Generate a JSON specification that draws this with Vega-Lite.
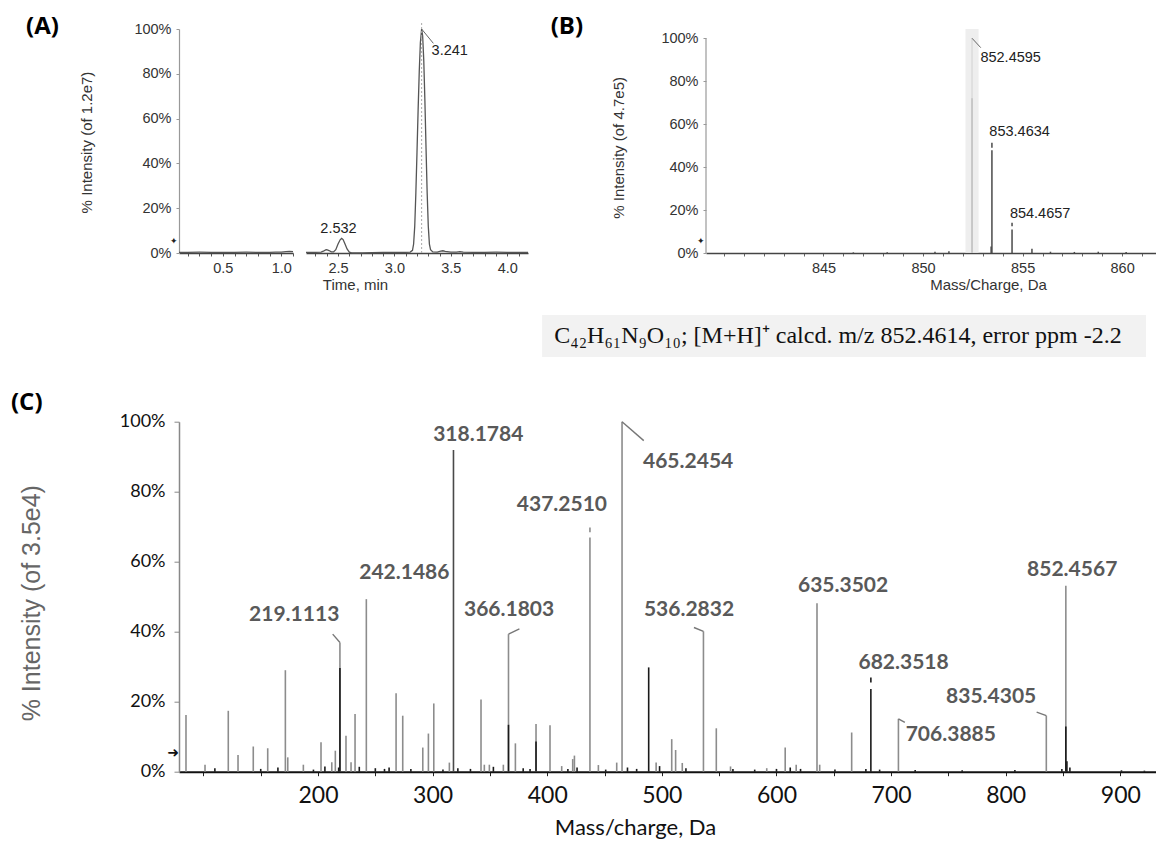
{
  "$schema": "https://vega.github.io/schema/vega-lite/v6.json",
  "padding": {"left": 10, "top": 14, "right": 0, "bottom": 0},
  "background": "white",
  "config": {
    "view": {"stroke": null},
    "axis": {"grid": false, "labelOverlap": false, "labelFlush": false, "titleFontWeight": "normal"}
  },
  "datasets": {
    "a_left": [
      {"t": 0.125, "v": 0.3}, {"t": 0.2, "v": 0.3}, {"t": 0.3, "v": 0.35}, {"t": 0.4, "v": 0.3},
      {"t": 0.5, "v": 0.25}, {"t": 0.6, "v": 0.3}, {"t": 0.7, "v": 0.35}, {"t": 0.8, "v": 0.3},
      {"t": 0.9, "v": 0.3}, {"t": 0.95, "v": 0.35}, {"t": 1.0, "v": 0.4}, {"t": 1.04, "v": 0.6},
      {"t": 1.07, "v": 0.75}, {"t": 1.1, "v": 0.6}
    ],
    "a_right": [
      {"t": 2.216, "v": 0.3}, {"t": 2.3, "v": 0.3}, {"t": 2.35, "v": 0.4}, {"t": 2.37, "v": 0.8},
      {"t": 2.39, "v": 1.4}, {"t": 2.4, "v": 1.5}, {"t": 2.42, "v": 1.1}, {"t": 2.44, "v": 0.5},
      {"t": 2.46, "v": 0.5}, {"t": 2.48, "v": 1.5}, {"t": 2.5, "v": 4.0}, {"t": 2.52, "v": 6.0},
      {"t": 2.532, "v": 6.5}, {"t": 2.545, "v": 6.0}, {"t": 2.56, "v": 4.2}, {"t": 2.58, "v": 1.8},
      {"t": 2.6, "v": 0.4}, {"t": 2.62, "v": 0.05}, {"t": 2.66, "v": 0.0}, {"t": 2.72, "v": 0.05},
      {"t": 2.8, "v": 0.2}, {"t": 2.9, "v": 0.3}, {"t": 3.0, "v": 0.3}, {"t": 3.1, "v": 0.3},
      {"t": 3.14, "v": 0.4}, {"t": 3.16, "v": 1.2}, {"t": 3.17, "v": 4}, {"t": 3.18, "v": 12},
      {"t": 3.19, "v": 27}, {"t": 3.2, "v": 45}, {"t": 3.21, "v": 64}, {"t": 3.22, "v": 81},
      {"t": 3.23, "v": 94}, {"t": 3.241, "v": 100}, {"t": 3.25, "v": 97}, {"t": 3.26, "v": 86},
      {"t": 3.27, "v": 68}, {"t": 3.28, "v": 47}, {"t": 3.29, "v": 27}, {"t": 3.3, "v": 12},
      {"t": 3.31, "v": 4}, {"t": 3.32, "v": 1.5}, {"t": 3.34, "v": 0.5}, {"t": 3.38, "v": 0.4},
      {"t": 3.41, "v": 0.8}, {"t": 3.43, "v": 1.0}, {"t": 3.45, "v": 0.7}, {"t": 3.5, "v": 0.4},
      {"t": 3.55, "v": 0.4}, {"t": 3.58, "v": 0.6}, {"t": 3.61, "v": 0.4}, {"t": 3.7, "v": 0.3},
      {"t": 3.8, "v": 0.3}, {"t": 3.9, "v": 0.35}, {"t": 4.0, "v": 0.3}, {"t": 4.1, "v": 0.3},
      {"t": 4.184, "v": 0.3}
    ],
    "a_labels": [
      {"t": 2.504, "v": 10.8, "label": "2.532"},
      {"t": 3.49, "v": 90, "label": "3.241"}
    ],
    "a_leader": [{"t": 3.241, "v": 100, "t2": 3.345, "v2": 93.6}],
    "a_apex": [{"t": 3.241, "v": 0, "v2": 102.7}],
    "b_band": [{"mz": 852.13, "mz2": 852.79}],
    "b_sticks": [
      {"mz": 852.46, "lo": 0, "hi": 100, "trace": "light"},
      {"mz": 852.46, "lo": 0, "hi": 72, "trace": "dark"},
      {"mz": 853.46, "lo": 0, "hi": 47.8, "trace": "dark"},
      {"mz": 853.46, "lo": 49, "hi": 51.3, "trace": "dark"},
      {"mz": 853.42, "lo": 0, "hi": 3, "trace": "dark"},
      {"mz": 854.47, "lo": 0, "hi": 10.9, "trace": "dark"},
      {"mz": 854.47, "lo": 12.4, "hi": 14.1, "trace": "dark"},
      {"mz": 855.47, "lo": 0, "hi": 2, "trace": "dark"},
      {"mz": 846.5, "lo": 0, "hi": 0.3, "trace": "dark"},
      {"mz": 848.2, "lo": 0, "hi": 0.4, "trace": "dark"},
      {"mz": 850.6, "lo": 0, "hi": 0.6, "trace": "dark"},
      {"mz": 851.3, "lo": 0, "hi": 0.8, "trace": "dark"},
      {"mz": 856.4, "lo": 0, "hi": 0.6, "trace": "dark"},
      {"mz": 857.6, "lo": 0, "hi": 0.5, "trace": "dark"},
      {"mz": 858.8, "lo": 0, "hi": 0.6, "trace": "dark"},
      {"mz": 860.2, "lo": 0, "hi": 0.5, "trace": "dark"}
    ],
    "b_leader": [{"mz": 852.46, "lo": 100, "mz2": 852.9, "hi": 95.6}],
    "b_labels": [
      {"mz": 854.4, "lo": 90.6, "label": "852.4595"},
      {"mz": 854.85, "lo": 56.4, "label": "853.4634"},
      {"mz": 855.88, "lo": 18.3, "label": "854.4657"}
    ],
    "formula": [
      {"text": "C₄₂H₆₁N₉O₁₀; [M+H]⁺ calcd. m/z 852.4614, error ppm -2.2"}
    ],
    "c_sticks": [
      {"mz": 84.8, "lo": 0, "hi": 16.2, "trace": "gray"},
      {"mz": 101.4, "lo": 0, "hi": 2, "trace": "gray"},
      {"mz": 121.7, "lo": 0, "hi": 17.4, "trace": "gray"},
      {"mz": 130.2, "lo": 0, "hi": 4.8, "trace": "gray"},
      {"mz": 143.5, "lo": 0, "hi": 7.2, "trace": "gray"},
      {"mz": 156.1, "lo": 0, "hi": 6.7, "trace": "gray"},
      {"mz": 171.5, "lo": 0, "hi": 29, "trace": "gray"},
      {"mz": 173.6, "lo": 0, "hi": 4.1, "trace": "gray"},
      {"mz": 187.2, "lo": 0, "hi": 2, "trace": "gray"},
      {"mz": 202.6, "lo": 0, "hi": 8.4, "trace": "gray"},
      {"mz": 212, "lo": 0, "hi": 2.7, "trace": "gray"},
      {"mz": 215.1, "lo": 0, "hi": 6, "trace": "gray"},
      {"mz": 219.11, "lo": 0, "hi": 36.9, "trace": "gray"},
      {"mz": 224.4, "lo": 0, "hi": 10.3, "trace": "gray"},
      {"mz": 228.8, "lo": 0, "hi": 2.7, "trace": "gray"},
      {"mz": 232.3, "lo": 0, "hi": 16.5, "trace": "gray"},
      {"mz": 242.15, "lo": 0, "hi": 49.3, "trace": "gray"},
      {"mz": 268.1, "lo": 0, "hi": 22.4, "trace": "gray"},
      {"mz": 273.9, "lo": 0, "hi": 16, "trace": "gray"},
      {"mz": 291.4, "lo": 0, "hi": 6.9, "trace": "gray"},
      {"mz": 296.3, "lo": 0, "hi": 10.9, "trace": "gray"},
      {"mz": 301, "lo": 0, "hi": 19.5, "trace": "gray"},
      {"mz": 314.6, "lo": 0, "hi": 2.6, "trace": "gray"},
      {"mz": 318.18, "lo": 0, "hi": 91.9, "trace": "dark"},
      {"mz": 342.2, "lo": 0, "hi": 20.6, "trace": "gray"},
      {"mz": 345.1, "lo": 0, "hi": 2, "trace": "gray"},
      {"mz": 349.5, "lo": 0, "hi": 2, "trace": "gray"},
      {"mz": 361.7, "lo": 0, "hi": 2, "trace": "gray"},
      {"mz": 366.18, "lo": 0, "hi": 39.3, "trace": "gray"},
      {"mz": 372.2, "lo": 0, "hi": 8.1, "trace": "gray"},
      {"mz": 390.2, "lo": 0, "hi": 13.6, "trace": "gray"},
      {"mz": 402.4, "lo": 0, "hi": 13.3, "trace": "gray"},
      {"mz": 412.6, "lo": 0, "hi": 1.6, "trace": "gray"},
      {"mz": 422.2, "lo": 0, "hi": 3.6, "trace": "gray"},
      {"mz": 423.7, "lo": 0, "hi": 4.6, "trace": "gray"},
      {"mz": 437.25, "lo": 0, "hi": 66.9, "trace": "gray"},
      {"mz": 437.25, "lo": 68.4, "hi": 69.8, "trace": "gray"},
      {"mz": 444.6, "lo": 0, "hi": 1.9, "trace": "gray"},
      {"mz": 460.6, "lo": 0, "hi": 2.6, "trace": "gray"},
      {"mz": 465.25, "lo": 0, "hi": 100, "trace": "gray"},
      {"mz": 495, "lo": 0, "hi": 2.6, "trace": "gray"},
      {"mz": 508.6, "lo": 0, "hi": 9.3, "trace": "gray"},
      {"mz": 512, "lo": 0, "hi": 6.2, "trace": "gray"},
      {"mz": 517.8, "lo": 0, "hi": 2.5, "trace": "gray"},
      {"mz": 536.28, "lo": 0, "hi": 40.1, "trace": "gray"},
      {"mz": 547.5, "lo": 0, "hi": 12.4, "trace": "gray"},
      {"mz": 559.9, "lo": 0, "hi": 1.5, "trace": "gray"},
      {"mz": 591.5, "lo": 0, "hi": 1, "trace": "gray"},
      {"mz": 607.6, "lo": 0, "hi": 6.9, "trace": "gray"},
      {"mz": 617.2, "lo": 0, "hi": 2, "trace": "gray"},
      {"mz": 635.35, "lo": 0, "hi": 48.1, "trace": "gray"},
      {"mz": 637.7, "lo": 0, "hi": 2, "trace": "gray"},
      {"mz": 665.6, "lo": 0, "hi": 11.2, "trace": "gray"},
      {"mz": 706.39, "lo": 0, "hi": 15.1, "trace": "gray"},
      {"mz": 835.43, "lo": 0, "hi": 16, "trace": "gray"},
      {"mz": 852.46, "lo": 0, "hi": 53.1, "trace": "gray"},
      {"mz": 219.11, "lo": 0, "hi": 29.6, "trace": "black"},
      {"mz": 366.18, "lo": 0, "hi": 13.4, "trace": "black"},
      {"mz": 390.2, "lo": 0, "hi": 8.6, "trace": "black"},
      {"mz": 488.5, "lo": 0, "hi": 29.8, "trace": "black"},
      {"mz": 682.35, "lo": 0, "hi": 23.6, "trace": "black"},
      {"mz": 682.35, "lo": 25.5, "hi": 26.9, "trace": "black"},
      {"mz": 852.46, "lo": 0, "hi": 12.9, "trace": "black"},
      {"mz": 853.4, "lo": 0, "hi": 3, "trace": "black"},
      {"mz": 110, "lo": 0, "hi": 1, "trace": "black"},
      {"mz": 150, "lo": 0, "hi": 0.8, "trace": "black"},
      {"mz": 165, "lo": 0, "hi": 1.2, "trace": "black"},
      {"mz": 196, "lo": 0, "hi": 0.6, "trace": "black"},
      {"mz": 206, "lo": 0, "hi": 1.5, "trace": "black"},
      {"mz": 218, "lo": 0, "hi": 1.2, "trace": "black"},
      {"mz": 236, "lo": 0, "hi": 1.4, "trace": "black"},
      {"mz": 250, "lo": 0, "hi": 1, "trace": "black"},
      {"mz": 258, "lo": 0, "hi": 0.8, "trace": "black"},
      {"mz": 262, "lo": 0, "hi": 1.2, "trace": "black"},
      {"mz": 281, "lo": 0, "hi": 0.8, "trace": "black"},
      {"mz": 309, "lo": 0, "hi": 0.6, "trace": "black"},
      {"mz": 322, "lo": 0, "hi": 1, "trace": "black"},
      {"mz": 333, "lo": 0, "hi": 0.8, "trace": "black"},
      {"mz": 353, "lo": 0, "hi": 1.4, "trace": "black"},
      {"mz": 379, "lo": 0, "hi": 1, "trace": "black"},
      {"mz": 385, "lo": 0, "hi": 0.8, "trace": "black"},
      {"mz": 418, "lo": 0, "hi": 0.8, "trace": "black"},
      {"mz": 426, "lo": 0, "hi": 1.2, "trace": "black"},
      {"mz": 451, "lo": 0, "hi": 0.6, "trace": "black"},
      {"mz": 470, "lo": 0, "hi": 1.2, "trace": "black"},
      {"mz": 478, "lo": 0, "hi": 0.8, "trace": "black"},
      {"mz": 498, "lo": 0, "hi": 1.6, "trace": "black"},
      {"mz": 521, "lo": 0, "hi": 1, "trace": "black"},
      {"mz": 562, "lo": 0, "hi": 0.8, "trace": "black"},
      {"mz": 581, "lo": 0, "hi": 0.6, "trace": "black"},
      {"mz": 600, "lo": 0, "hi": 0.8, "trace": "black"},
      {"mz": 612, "lo": 0, "hi": 1.2, "trace": "black"},
      {"mz": 621, "lo": 0, "hi": 0.8, "trace": "black"},
      {"mz": 651, "lo": 0, "hi": 0.6, "trace": "black"},
      {"mz": 678, "lo": 0, "hi": 0.8, "trace": "black"},
      {"mz": 690, "lo": 0, "hi": 0.6, "trace": "black"},
      {"mz": 721, "lo": 0, "hi": 0.5, "trace": "black"},
      {"mz": 762, "lo": 0, "hi": 0.4, "trace": "black"},
      {"mz": 808, "lo": 0, "hi": 0.5, "trace": "black"},
      {"mz": 849, "lo": 0, "hi": 0.8, "trace": "black"},
      {"mz": 856, "lo": 0, "hi": 1.2, "trace": "black"},
      {"mz": 901, "lo": 0, "hi": 0.4, "trace": "black"},
      {"mz": 921, "lo": 0, "hi": 0.3, "trace": "black"}
    ],
    "c_leaders": [
      {"mz": 219.11, "lo": 36.9, "mz2": 212.8, "hi": 39.3},
      {"mz": 366.18, "lo": 39.3, "mz2": 375.7, "hi": 40.8},
      {"mz": 465.25, "lo": 100, "mz2": 484.2, "hi": 94.6},
      {"mz": 536.28, "lo": 40.1, "mz2": 528, "hi": 41.2},
      {"mz": 706.39, "lo": 15.1, "mz2": 712, "hi": 14.1},
      {"mz": 835.43, "lo": 16, "mz2": 827, "hi": 17}
    ],
    "c_labels": [
      {"mz": 179.2, "lo": 44.9, "label": "219.1113"},
      {"mz": 275.3, "lo": 56.9, "label": "242.1486"},
      {"mz": 339.8, "lo": 96.3, "label": "318.1784"},
      {"mz": 366.7, "lo": 46.1, "label": "366.1803"},
      {"mz": 412.8, "lo": 76.3, "label": "437.2510"},
      {"mz": 522.9, "lo": 88.4, "label": "465.2454"},
      {"mz": 523.7, "lo": 46.1, "label": "536.2832"},
      {"mz": 658.1, "lo": 53.1, "label": "635.3502"},
      {"mz": 710.9, "lo": 31.1, "label": "682.3518"},
      {"mz": 752.1, "lo": 10.5, "label": "706.3885"},
      {"mz": 787.3, "lo": 21.4, "label": "835.4305"},
      {"mz": 858, "lo": 57.5, "label": "852.4567"}
    ]
  },
  "bounds": "flush",
  "spacing": 168.7,
  "vconcat": [
    {
      "width": 977,
      "height": 224,
      "resolve": {"scale": {"x": "independent", "y": "independent"}},
      "layer": [
        {
          "layer": [
            {
              "data": {"name": "a_left"},
              "mark": {"type": "line", "color": "#555", "strokeWidth": 1.3},
              "encoding": {
                "x": {
                  "field": "t", "type": "quantitative",
                  "scale": {"domain": [0.125, 1.1], "range": [0, 114], "nice": false, "zero": false},
                  "axis": {
                    "orient": "bottom",
                    "title": null,
                    "values": [0.2, 0.3, 0.4, 0.5, 0.6, 0.7, 0.8, 0.9, 1.0, 1.1],
                    "labelExpr": "abs(round(datum.value*10)%5)==0 ? format(datum.value,'.1f') : ''",
                    "labelOverlap": false, "labelFlush": false,
                    "domainColor": "#444", "domainWidth": 1.5,
                    "tickColor": "#555", "tickSize": 3,
                    "labelFont": "Liberation Sans", "labelFontSize": 14.5, "labelColor": "#333", "labelPadding": 5
                  }
                },
                "y": {
                  "field": "v", "type": "quantitative",
                  "scale": {"domain": [0, 100], "nice": false},
                  "axis": {
                    "orient": "left",
                    "title": "% Intensity (of 1.2e7)",
                    "values": [0, 10, 20, 30, 40, 50, 60, 70, 80, 90, 100],
                    "labelExpr": "datum.value % 20 == 0 ? datum.value + '%' : ''",
                    "labelOverlap": false,
                    "domainColor": "#999", "domainWidth": 1.2,
                    "tickColor": "#999", "tickSize": 3,
                    "labelFont": "Liberation Sans", "labelFontSize": 14.5, "labelColor": "#333", "labelPadding": 5,
                    "titleFont": "Liberation Sans", "titleFontSize": 15, "titleColor": "#333",
                    "titleX": -93, "titleY": 113, "titleBaseline": "middle", "titleAlign": "center"
                  }
                }
              }
            },
            {
              "data": {"values": [{"k": 1}]},
              "mark": {"type": "text", "text": "(A)", "font": "Open Sans", "fontWeight": "bold", "fontSize": 24, "align": "left", "baseline": "top", "color": "#000"},
              "encoding": {
                "x": {"datum": -1.183, "axis": {"title": null}},
                "y": {"datum": 106.4, "axis": {"title": "% Intensity (of 1.2e7)"}}
              }
            },
            {
              "data": {"values": [{"k": 1}]},
              "mark": {"type": "text", "text": "✦", "fontSize": 9, "align": "right", "baseline": "middle", "dx": -1, "color": "#222"},
              "encoding": {
                "x": {"datum": 0.125, "axis": {"title": null}},
                "y": {"datum": 5.2, "axis": {"title": "% Intensity (of 1.2e7)"}}
              }
            }
          ]
        },
        {
          "layer": [
            {
              "data": {"name": "a_right"},
              "mark": {"type": "line", "color": "#555", "strokeWidth": 1.3},
              "encoding": {
                "x": {
                  "field": "t", "type": "quantitative",
                  "scale": {"domain": [2.216, 4.184], "range": [127, 349], "nice": false, "zero": false},
                  "axis": {
                    "orient": "bottom",
                    "title": "Time, min",
                    "values": [2.3, 2.4, 2.5, 2.6, 2.7, 2.8, 2.9, 3.0, 3.1, 3.2, 3.3, 3.4, 3.5, 3.6, 3.7, 3.8, 3.9, 4.0, 4.1],
                    "labelExpr": "abs(round(datum.value*10)%5)==0 ? format(datum.value,'.1f') : ''",
                    "labelOverlap": false, "labelFlush": false,
                    "domainColor": "#444", "domainWidth": 1.5,
                    "tickColor": "#555", "tickSize": 3,
                    "labelFont": "Liberation Sans", "labelFontSize": 14.5, "labelColor": "#333", "labelPadding": 5,
                    "titleFont": "Liberation Sans", "titleFontSize": 15, "titleColor": "#333",
                    "titleX": 176, "titleY": 24, "titleBaseline": "top", "titleAlign": "center"
                  }
                },
                "y": {
                  "field": "v", "type": "quantitative",
                  "scale": {"domain": [0, 100], "nice": false},
                  "axis": null
                }
              }
            },
            {
              "data": {"name": "a_apex"},
              "mark": {"type": "rule", "color": "#aaa", "strokeWidth": 1, "strokeDash": [2, 2]},
              "encoding": {
                "x": {"field": "t", "type": "quantitative", "axis": {"title": "Time, min"}},
                "y": {"field": "v", "type": "quantitative", "axis": null},
                "y2": {"field": "v2"}
              }
            },
            {
              "data": {"name": "a_leader"},
              "mark": {"type": "rule", "color": "#666", "strokeWidth": 1},
              "encoding": {
                "x": {"field": "t", "type": "quantitative", "axis": {"title": "Time, min"}},
                "y": {"field": "v", "type": "quantitative", "axis": null},
                "x2": {"field": "t2"},
                "y2": {"field": "v2"}
              }
            },
            {
              "data": {"name": "a_labels"},
              "mark": {"type": "text", "font": "Liberation Sans", "fontSize": 14.5, "color": "#222", "align": "center", "baseline": "middle"},
              "encoding": {
                "x": {"field": "t", "type": "quantitative", "axis": {"title": "Time, min"}},
                "y": {"field": "v", "type": "quantitative", "axis": null},
                "text": {"field": "label"}
              }
            }
          ]
        },
        {
          "layer": [
            {
              "data": {"name": "b_sticks"},
              "mark": {"type": "rule", "strokeWidth": 1.5},
              "encoding": {
                "x": {
                  "field": "mz", "type": "quantitative",
                  "scale": {"domain": [839.1, 861.7], "range": [527, 977], "nice": false, "zero": false},
                  "axis": {
                    "orient": "bottom",
                    "title": "Mass/Charge, Da",
                    "values": [840, 841, 842, 843, 844, 845, 846, 847, 848, 849, 850, 851, 852, 853, 854, 855, 856, 857, 858, 859, 860, 861],
                    "labelExpr": "datum.value % 5 == 0 && datum.value > 840 ? toString(datum.value) : ''",
                    "labelOverlap": false, "labelFlush": false,
                    "domainColor": "#444", "domainWidth": 1.5,
                    "tickColor": "#666", "tickSize": 3,
                    "labelFont": "Liberation Sans", "labelFontSize": 14.5, "labelColor": "#333", "labelPadding": 5,
                    "titleFont": "Liberation Sans", "titleFontSize": 15, "titleColor": "#333",
                    "titleX": 809, "titleY": 24, "titleBaseline": "top", "titleAlign": "center"
                  }
                },
                "y": {
                  "field": "lo", "type": "quantitative",
                  "scale": {"domain": [0, 104.3], "nice": false},
                  "axis": {
                    "orient": "left",
                    "offset": -527,
                    "title": "% Intensity (of 4.7e5)",
                    "domain": false,
                    "values": [0, 10, 20, 30, 40, 50, 60, 70, 80, 90, 100],
                    "labelExpr": "datum.value % 20 == 0 ? datum.value + '%' : ''",
                    "labelOverlap": false,
                    "tickColor": "#999", "tickSize": 3,
                    "labelFont": "Liberation Sans", "labelFontSize": 14.5, "labelColor": "#333", "labelPadding": 5,
                    "titleFont": "Liberation Sans", "titleFontSize": 15, "titleColor": "#333",
                    "titleX": -87.4, "titleY": 118.4, "titleBaseline": "middle", "titleAlign": "center"
                  }
                },
                "y2": {"field": "hi"},
                "color": {
                  "field": "trace", "type": "nominal",
                  "scale": {"domain": ["light", "gray", "dark", "black"], "range": ["#b0b0b0", "#8c8c8c", "#4a4a4a", "#1a1a1a"]},
                  "legend": null
                }
              }
            },
            {
              "data": {"name": "b_band"},
              "mark": {"type": "rect", "color": "#e8e8e8", "opacity": 0.75},
              "encoding": {
                "x": {"field": "mz", "type": "quantitative", "axis": {"title": "Mass/Charge, Da"}},
                "x2": {"field": "mz2"},
                "y": {"datum": 0, "axis": {"title": "% Intensity (of 4.7e5)"}},
                "y2": {"datum": 104.3}
              }
            },
            {
              "data": {"values": [{"k": 1}]},
              "mark": {"type": "rule", "color": "#999", "strokeWidth": 1.2},
              "encoding": {
                "x": {"datum": 839.1, "axis": {"title": "Mass/Charge, Da"}},
                "y": {"datum": 0, "axis": {"title": "% Intensity (of 4.7e5)"}},
                "y2": {"datum": 100}
              }
            },
            {
              "data": {"name": "b_leader"},
              "mark": {"type": "rule", "color": "#666", "strokeWidth": 1},
              "encoding": {
                "x": {"field": "mz", "type": "quantitative", "axis": {"title": "Mass/Charge, Da"}},
                "y": {"field": "lo", "type": "quantitative", "axis": {"title": "% Intensity (of 4.7e5)"}},
                "x2": {"field": "mz2"},
                "y2": {"field": "hi"}
              }
            },
            {
              "data": {"name": "b_labels"},
              "mark": {"type": "text", "font": "Liberation Sans", "fontSize": 14.5, "color": "#222", "align": "center", "baseline": "middle"},
              "encoding": {
                "x": {"field": "mz", "type": "quantitative", "axis": {"title": "Mass/Charge, Da"}},
                "y": {"field": "lo", "type": "quantitative", "axis": {"title": "% Intensity (of 4.7e5)"}},
                "text": {"field": "label"}
              }
            },
            {
              "data": {"values": [{"k": 1}]},
              "mark": {"type": "text", "text": "(B)", "font": "Open Sans", "fontWeight": "bold", "fontSize": 24, "align": "left", "baseline": "top", "color": "#000"},
              "encoding": {
                "x": {"datum": 831.3, "axis": {"title": "Mass/Charge, Da"}},
                "y": {"datum": 111.0, "axis": {"title": "% Intensity (of 4.7e5)"}}
              }
            },
            {
              "data": {"values": [{"k": 1}]},
              "mark": {"type": "text", "text": "✦", "fontSize": 9, "align": "right", "baseline": "middle", "dx": -1, "color": "#222"},
              "encoding": {
                "x": {"datum": 839.1, "axis": {"title": "Mass/Charge, Da"}},
                "y": {"datum": 5.6, "axis": {"title": "% Intensity (of 4.7e5)"}}
              }
            },
            {
              "data": {"values": [{"k": 1}]},
              "mark": {"type": "rect", "color": "#f2f2f2"},
              "encoding": {
                "x": {"datum": 830.87, "axis": {"title": "Mass/Charge, Da"}},
                "x2": {"datum": 861.2},
                "y": {"datum": -28.85, "axis": {"title": "% Intensity (of 4.7e5)"}},
                "y2": {"datum": -48.4}
              }
            },
            {
              "data": {"name": "formula"},
              "mark": {"type": "text", "font": "Liberation Serif", "fontSize": 24, "color": "#111", "align": "center", "baseline": "middle"},
              "encoding": {
                "x": {"datum": 845.73, "axis": {"title": "Mass/Charge, Da"}},
                "y": {"datum": -38.6, "axis": {"title": "% Intensity (of 4.7e5)"}},
                "text": {"field": "text"}
              }
            }
          ]
        }
      ]
    },
    {
      "width": 978,
      "height": 350,
      "layer": [
        {
          "data": {"name": "c_sticks"},
          "mark": {"type": "rule", "strokeWidth": 1.6},
          "encoding": {
            "x": {
              "field": "mz", "type": "quantitative",
              "scale": {"domain": [78.7, 932], "nice": false, "zero": false},
              "axis": {
                "title": "Mass/charge, Da",
                "values": [100, 150, 200, 250, 300, 350, 400, 450, 500, 550, 600, 650, 700, 750, 800, 850, 900],
                "labelExpr": "datum.value % 100 == 0 && datum.value > 100 ? toString(datum.value) : ''",
                "labelOverlap": false, "labelFlush": false,
                "domainColor": "#111", "domainWidth": 2,
                "tickColor": "#222", "tickSize": 4,
                "labelFont": "Lato", "labelFontSize": 23, "labelColor": "#111", "labelPadding": 9,
                "titleFont": "Lato", "titleFontSize": 22, "titleColor": "#111",
                "titleX": 456, "titleY": 46, "titleBaseline": "top", "titleAlign": "center"
              }
            },
            "y": {
              "field": "lo", "type": "quantitative",
              "scale": {"domain": [0, 100], "nice": false},
              "axis": {
                "title": "% Intensity (of 3.5e4)",
                "values": [0, 10, 20, 30, 40, 50, 60, 70, 80, 90, 100],
                "labelExpr": "datum.value % 20 == 0 ? datum.value + '%' : ''",
                "labelOverlap": false,
                "domainColor": "#888", "domainWidth": 1.5,
                "tickColor": "#888", "tickSize": 5,
                "labelFont": "Lato", "labelFontSize": 18, "labelColor": "#111", "labelPadding": 9,
                "titleFont": "Liberation Sans", "titleFontSize": 25, "titleColor": "#666",
                "titleX": -148, "titleY": 181, "titleBaseline": "middle", "titleAlign": "center"
              }
            },
            "y2": {"field": "hi"},
            "color": {
              "field": "trace", "type": "nominal",
              "scale": {"domain": ["light", "gray", "dark", "black"], "range": ["#b0b0b0", "#8c8c8c", "#4a4a4a", "#1a1a1a"]},
              "legend": null
            }
          }
        },
        {
          "data": {"name": "c_leaders"},
          "mark": {"type": "rule", "color": "#777", "strokeWidth": 1.4},
          "encoding": {
            "x": {"field": "mz", "type": "quantitative", "axis": {"title": "Mass/charge, Da"}},
            "y": {"field": "lo", "type": "quantitative", "axis": {"title": "% Intensity (of 3.5e4)"}},
            "x2": {"field": "mz2"},
            "y2": {"field": "hi"}
          }
        },
        {
          "data": {"name": "c_labels"},
          "mark": {"type": "text", "font": "Lato", "fontWeight": "bold", "fontSize": 21, "color": "#595959", "align": "center", "baseline": "middle"},
          "encoding": {
            "x": {"field": "mz", "type": "quantitative", "axis": {"title": "Mass/charge, Da"}},
            "y": {"field": "lo", "type": "quantitative", "axis": {"title": "% Intensity (of 3.5e4)"}},
            "text": {"field": "label"}
          }
        },
        {
          "data": {"values": [{"k": 1}]},
          "mark": {"type": "text", "text": "(C)", "font": "Open Sans", "fontWeight": "bold", "fontSize": 24, "align": "left", "baseline": "top", "color": "#000"},
          "encoding": {
            "x": {"datum": -67.9, "axis": {"title": "Mass/charge, Da"}},
            "y": {"datum": 108.9, "axis": {"title": "% Intensity (of 3.5e4)"}}
          }
        },
        {
          "data": {"values": [{"k": 1}]},
          "mark": {"type": "text", "text": "➜", "font": "DejaVu Sans", "fontSize": 14, "align": "right", "baseline": "middle", "color": "#111"},
          "encoding": {
            "x": {"datum": 78.7, "axis": {"title": "Mass/charge, Da"}},
            "y": {"datum": 5.3, "axis": {"title": "% Intensity (of 3.5e4)"}}
          }
        }
      ]
    }
  ]
}
